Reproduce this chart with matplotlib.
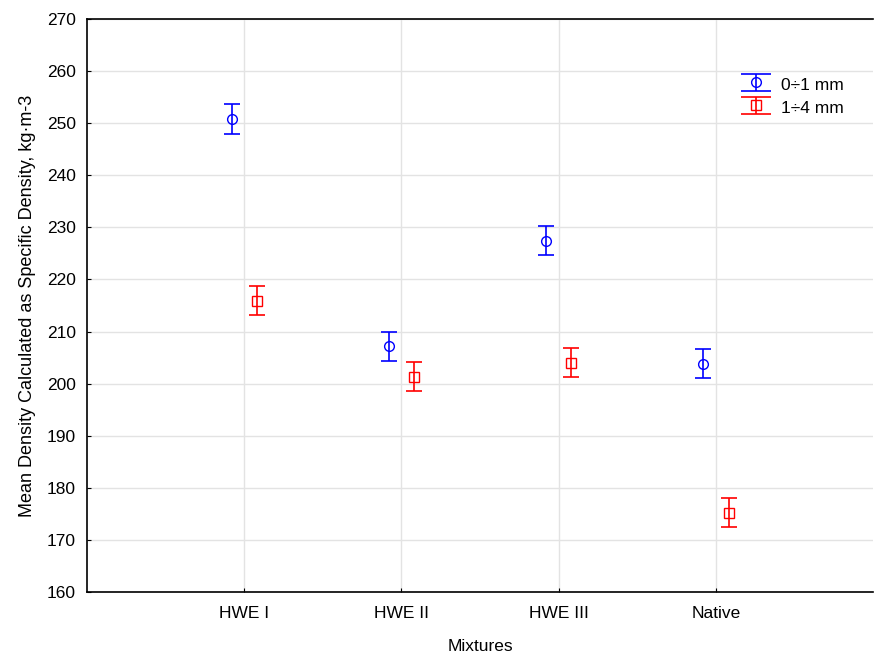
import numpy as np
import matplotlib
matplotlib.use('Agg')
import matplotlib.pyplot as plt
from matplotlib.lines import Line2D

plt.rcParams['font.family'] = ['Liberation Sans', 'DejaVu Sans']

# Data
mixtures = ['HWE I', 'HWE II', 'HWE III', 'Native']
fine_mean = [250.8, 207.2, 227.4, 203.8]     # 0÷1 mm
fine_err = [2.8, 2.8, 2.8, 2.8]
coarse_mean = [215.9, 201.3, 204.0, 175.2]   # 1÷4 mm
coarse_err = [2.8, 2.8, 2.8, 2.8]
yticks = np.arange(160, 271, 10)

fig = plt.figure(figsize=(8.75, 6.53), dpi=100)
ax = fig.add_axes([0.0994, 0.0934, 0.8986, 0.8776])

x = np.arange(1, len(mixtures) + 1)
offset = 0.08

ax.errorbar(x - offset, fine_mean, yerr=fine_err, fmt='o', color='#0000ff',
            mfc='none', mec='#0000ff', ms=7, capsize=6, elinewidth=1.2,
            capthick=1.2, label='0÷1 mm', zorder=3)
ax.errorbar(x + offset, coarse_mean, yerr=coarse_err, fmt='s', color='#ff0000',
            mfc='none', mec='#ff0000', ms=6.5, capsize=6, elinewidth=1.2,
            capthick=1.2, label='1÷4 mm', zorder=3)

ax.set_xlim(0, 5)
ax.set_ylim(160, 270)
ax.set_xticks(x)
ax.set_xticklabels(mixtures, fontsize=12.5)
ax.set_yticks(yticks)
ax.tick_params(axis='y', labelsize=12.5, direction='in', length=3, pad=8)
ax.tick_params(axis='x', direction='in', length=3, pad=10)
ax.grid(True, color='#e3e3e3', linewidth=1)
ax.set_axisbelow(True)

ax.spines['right'].set_visible(False)
for side in ['left', 'bottom', 'top']:
    ax.spines[side].set_linewidth(1.2)

ax.set_xlabel('Mixtures', fontsize=12.5, labelpad=13)
ax.set_ylabel('Mean Density Calculated as Specific Density, kg·m-3', fontsize=13, labelpad=8)

leg = ax.legend(loc='upper left', bbox_to_anchor=(0.818, 0.915), frameon=False,
                fontsize=12.5, handlelength=2.2, handleheight=1.3,
                handletextpad=0.35, labelspacing=0.25, borderaxespad=0)
for line in leg.findobj(Line2D):
    if line.get_marker() == '_':
        line.set_markersize(22)

plt.savefig('out.png', dpi=100)
